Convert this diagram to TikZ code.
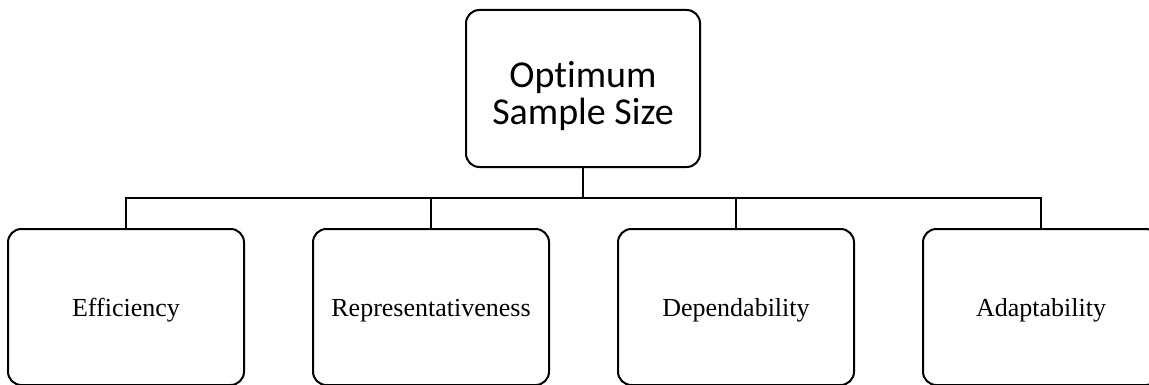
\documentclass[tikz,border=0pt]{standalone}
\usepackage{fontspec}
\setmainfont{Liberation Serif}
\newfontfamily\headfont[Ligatures=NoCommon]{Carlito}

\begin{document}
\begin{tikzpicture}[x=0.75pt,y=-0.75pt,line width=1.5pt,
	box/.style={draw,rounded corners=10pt,inner sep=0pt,align=center,minimum width=177pt,minimum height=117pt},
	head/.style={box,minimum width=175.5pt,minimum height=117.75pt,text height=58pt,text depth=4.75pt,font=\headfont\fontsize{28.5}{27.75}\selectfont},
	leaf/.style={box,text height=16pt,text depth=2.5pt,font=\fontsize{19.5}{22}\selectfont}]
			\clip (0,0) rectangle (1149,385);

			\node[head] (size) at (583, 88.5) {Optimum\\Sample Size};

			\node[leaf] (1) at (126, 307) {Efficiency};
			\node[leaf] (2) at (431, 307) {Representativeness};
			\node[leaf] (3) at (736, 307) {Dependability};
			\node[leaf] (4) at (1041, 307) {Adaptability};

			\coordinate (bar) at (583, 198);

			\draw (size) -- (bar);

			\foreach \n in {1,...,4}
			\draw (bar) -| (\n);
		\end{tikzpicture}
\end{document}
